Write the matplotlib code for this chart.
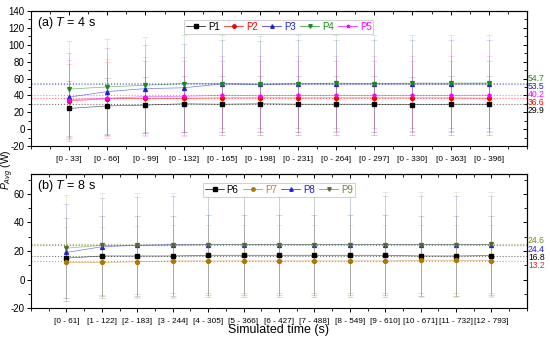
import matplotlib
matplotlib.use("Agg")
import matplotlib.pyplot as plt
import matplotlib.ticker as ticker
import numpy as np

plt.rcParams['font.family'] = ['Liberation Sans', 'DejaVu Sans']
plt.rcParams['mathtext.fontset'] = 'custom'
plt.rcParams['mathtext.rm'] = 'Liberation Sans'
plt.rcParams['mathtext.it'] = 'Liberation Sans:italic'
plt.rcParams['axes.unicode_minus'] = False

# ---- panel (a): T = 4 s ----
cats_a = ['[0 - 33]', '[0 - 66]', '[0 - 99]', '[0 - 132]', '[0 - 165]', '[0 - 198]',
          '[0 - 231]', '[0 - 264]', '[0 - 297]', '[0 - 330]', '[0 - 363]', '[0 - 396]']
names_a = ['P1', 'P2', 'P3', 'P4', 'P5']
p1 = [24.5, 27.5, 28.5, 30.0, 29.5, 30.0, 29.5, 29.5, 29.5, 29.0, 29.5, 29.5]
p2 = [33.5, 36.0, 36.5, 36.5, 37.0, 37.0, 37.0, 37.0, 37.0, 37.0, 37.0, 36.6]
p3 = [38.0, 44.5, 48.0, 49.0, 53.5, 53.0, 53.5, 53.5, 53.5, 53.5, 53.5, 53.5]
p4 = [47.5, 50.0, 52.0, 54.0, 54.0, 53.5, 54.0, 54.5, 54.0, 54.5, 54.5, 54.7]
p5 = [35.0, 36.5, 38.5, 39.0, 40.0, 39.5, 40.0, 40.0, 40.0, 40.0, 40.0, 40.2]
err_a = [33, 44, 52, 57, 47]
final_a = [29.9, 36.6, 53.5, 54.7, 40.2]

# ---- panel (b): T = 8 s ----
cats_b = ['[0 - 61]', '[1 - 122]', '[2 - 183]', '[3 - 244]', '[4 - 305]', '[5 - 366]',
          '[6 - 427]', '[7 - 488]', '[8 - 549]', '[9 - 610]', '[10 - 671]', '[11 - 732]',
          '[12 - 793]']
names_b = ['P6', 'P7', 'P8', 'P9']
p6 = [15.0, 16.5, 16.5, 16.5, 17.0, 17.0, 17.0, 17.0, 17.0, 17.0, 16.5, 16.5, 16.8]
p7 = [12.0, 12.0, 12.5, 13.0, 13.0, 13.0, 13.0, 13.0, 13.0, 13.0, 13.5, 13.5, 13.2]
p8 = [19.0, 23.0, 24.0, 24.5, 24.5, 24.5, 24.5, 24.5, 24.5, 24.5, 24.5, 24.5, 24.4]
p9 = [22.0, 24.0, 24.0, 24.0, 24.5, 24.5, 24.5, 24.5, 24.5, 24.5, 24.5, 24.5, 24.6]
err_b = [28, 25, 34, 37]
final_b = [16.8, 13.2, 24.4, 24.6]

fig = plt.figure(figsize=(5.5, 3.4), dpi=100)
ax_a = fig.add_axes([0.0564, 0.5706, 0.9016, 0.397])
ax_b = fig.add_axes([0.0564, 0.0941, 0.9016, 0.394])


def draw_panel(ax, cats, series, names, errs, finals, colors, mcolors, markers,
               lbl_colors, lbl_y, ylim, tag, leg_colors):
    x = np.arange(1, len(cats) + 1)
    handles = []
    for s, n, e, c, mc, m in zip(series, names, errs, colors, mcolors, markers):
        ax.errorbar(x, s, yerr=e, fmt='none', ecolor=c, elinewidth=0.5,
                    capsize=2, capthick=0.5, alpha=0.22, zorder=1)
        ax.plot(x, s, '-', color=c, lw=0.5, alpha=0.6, zorder=3)
        ax.plot(x, s, 'none', marker=m, ms=2.8, mfc=mc, mec=mc, zorder=4)
        h, = ax.plot([], [], '-', color=c, lw=0.5, marker=m, ms=2.5, mfc=mc, mec=mc,
                     label=n)
        handles.append(h)
    for f, c, ly in zip(finals, lbl_colors, lbl_y):
        ax.axhline(f, color=c, ls=':', lw=0.8, alpha=0.55, zorder=2)
        ax.text(len(cats) + 1.03, ly, f'{f}', color=c, fontsize=6.2,
                va='center', ha='left', clip_on=False)
    ax.set_xlim(0, len(cats) + 1)
    ax.set_ylim(*ylim)
    ax.set_xticks(x)
    ax.set_xticklabels(cats)
    ax.xaxis.set_minor_locator(ticker.MultipleLocator(0.5))
    ax.yaxis.set_major_locator(ticker.MultipleLocator(20))
    ax.yaxis.set_minor_locator(ticker.MultipleLocator(10))
    ax.tick_params(axis='both', which='major', direction='out', length=3,
                   width=0.7, labelsize=7, pad=1.5)
    ax.tick_params(axis='x', which='major', labelsize=5.9, pad=4)
    ax.tick_params(axis='both', which='minor', direction='out', length=2, width=0.6)
    top = ax.secondary_xaxis('top')
    top.set_xticks(x)
    top.xaxis.set_minor_locator(ticker.MultipleLocator(0.5))
    top.tick_params(which='major', direction='in', length=3, width=0.7, labeltop=False)
    top.tick_params(which='minor', direction='in', length=2, width=0.6)
    right = ax.secondary_yaxis('right')
    right.yaxis.set_major_locator(ticker.MultipleLocator(20))
    right.yaxis.set_minor_locator(ticker.MultipleLocator(10))
    right.tick_params(which='major', direction='in', length=3, width=0.7, labelright=False)
    right.tick_params(which='minor', direction='in', length=2, width=0.6)
    for sp in ax.spines.values():
        sp.set_linewidth(0.8)
    ax.text(0.012, 0.91, tag, transform=ax.transAxes, fontsize=9, va='center')
    leg = ax.legend(handles=handles, loc='upper center', ncol=len(names), fontsize=7,
                    frameon=True, fancybox=False, edgecolor='#bbbbbb', handlelength=1.9,
                    handletextpad=0.3, columnspacing=0.5, borderpad=0.2,
                    bbox_to_anchor=(0.5, 0.97))
    leg.get_frame().set_linewidth(0.6)
    for t, c in zip(leg.get_texts(), leg_colors):
        t.set_color(c)


cols_a = ['#000000', '#ff0000', '#2020cc', '#1a8c1a', '#ff00ff']
draw_panel(ax_a, cats_a, [p1, p2, p3, p4, p5], names_a, err_a, final_a,
           colors=cols_a, mcolors=cols_a,
           markers=['s', 'o', '^', 'v', '*'],
           lbl_colors=cols_a,
           lbl_y=[21.8, 31.5, 51.0, 60.5, 41.3],
           ylim=(-20, 140), tag=r'(a) $T$ = 4 s', leg_colors=cols_a)

draw_panel(ax_b, cats_b, [p6, p7, p8, p9], names_b, err_b, final_b,
           colors=['#000000', '#c0801a', '#2020dd', '#6b8e23'],
           mcolors=['#000000', '#b07800', '#2020dd', '#556b2f'],
           markers=['s', 'o', '^', 'v'],
           lbl_colors=['#000000', '#e03030', '#2020dd', '#6b8e23'],
           lbl_y=[15.6, 9.8, 21.4, 27.2],
           ylim=(-20, 74), tag=r'(b) $T$ = 8 s',
           leg_colors=['#000000', '#c0801a', '#2020dd', '#6b8e23'])

fig.text(0.0, 0.5, r'$P_{Avg}$ (W)', rotation=90, fontsize=7.5, va='center', ha='left')
fig.text(0.507, 0.03, 'Simulated time (s)', fontsize=9, ha='center', va='center')

fig.savefig('out.png', dpi=100)
